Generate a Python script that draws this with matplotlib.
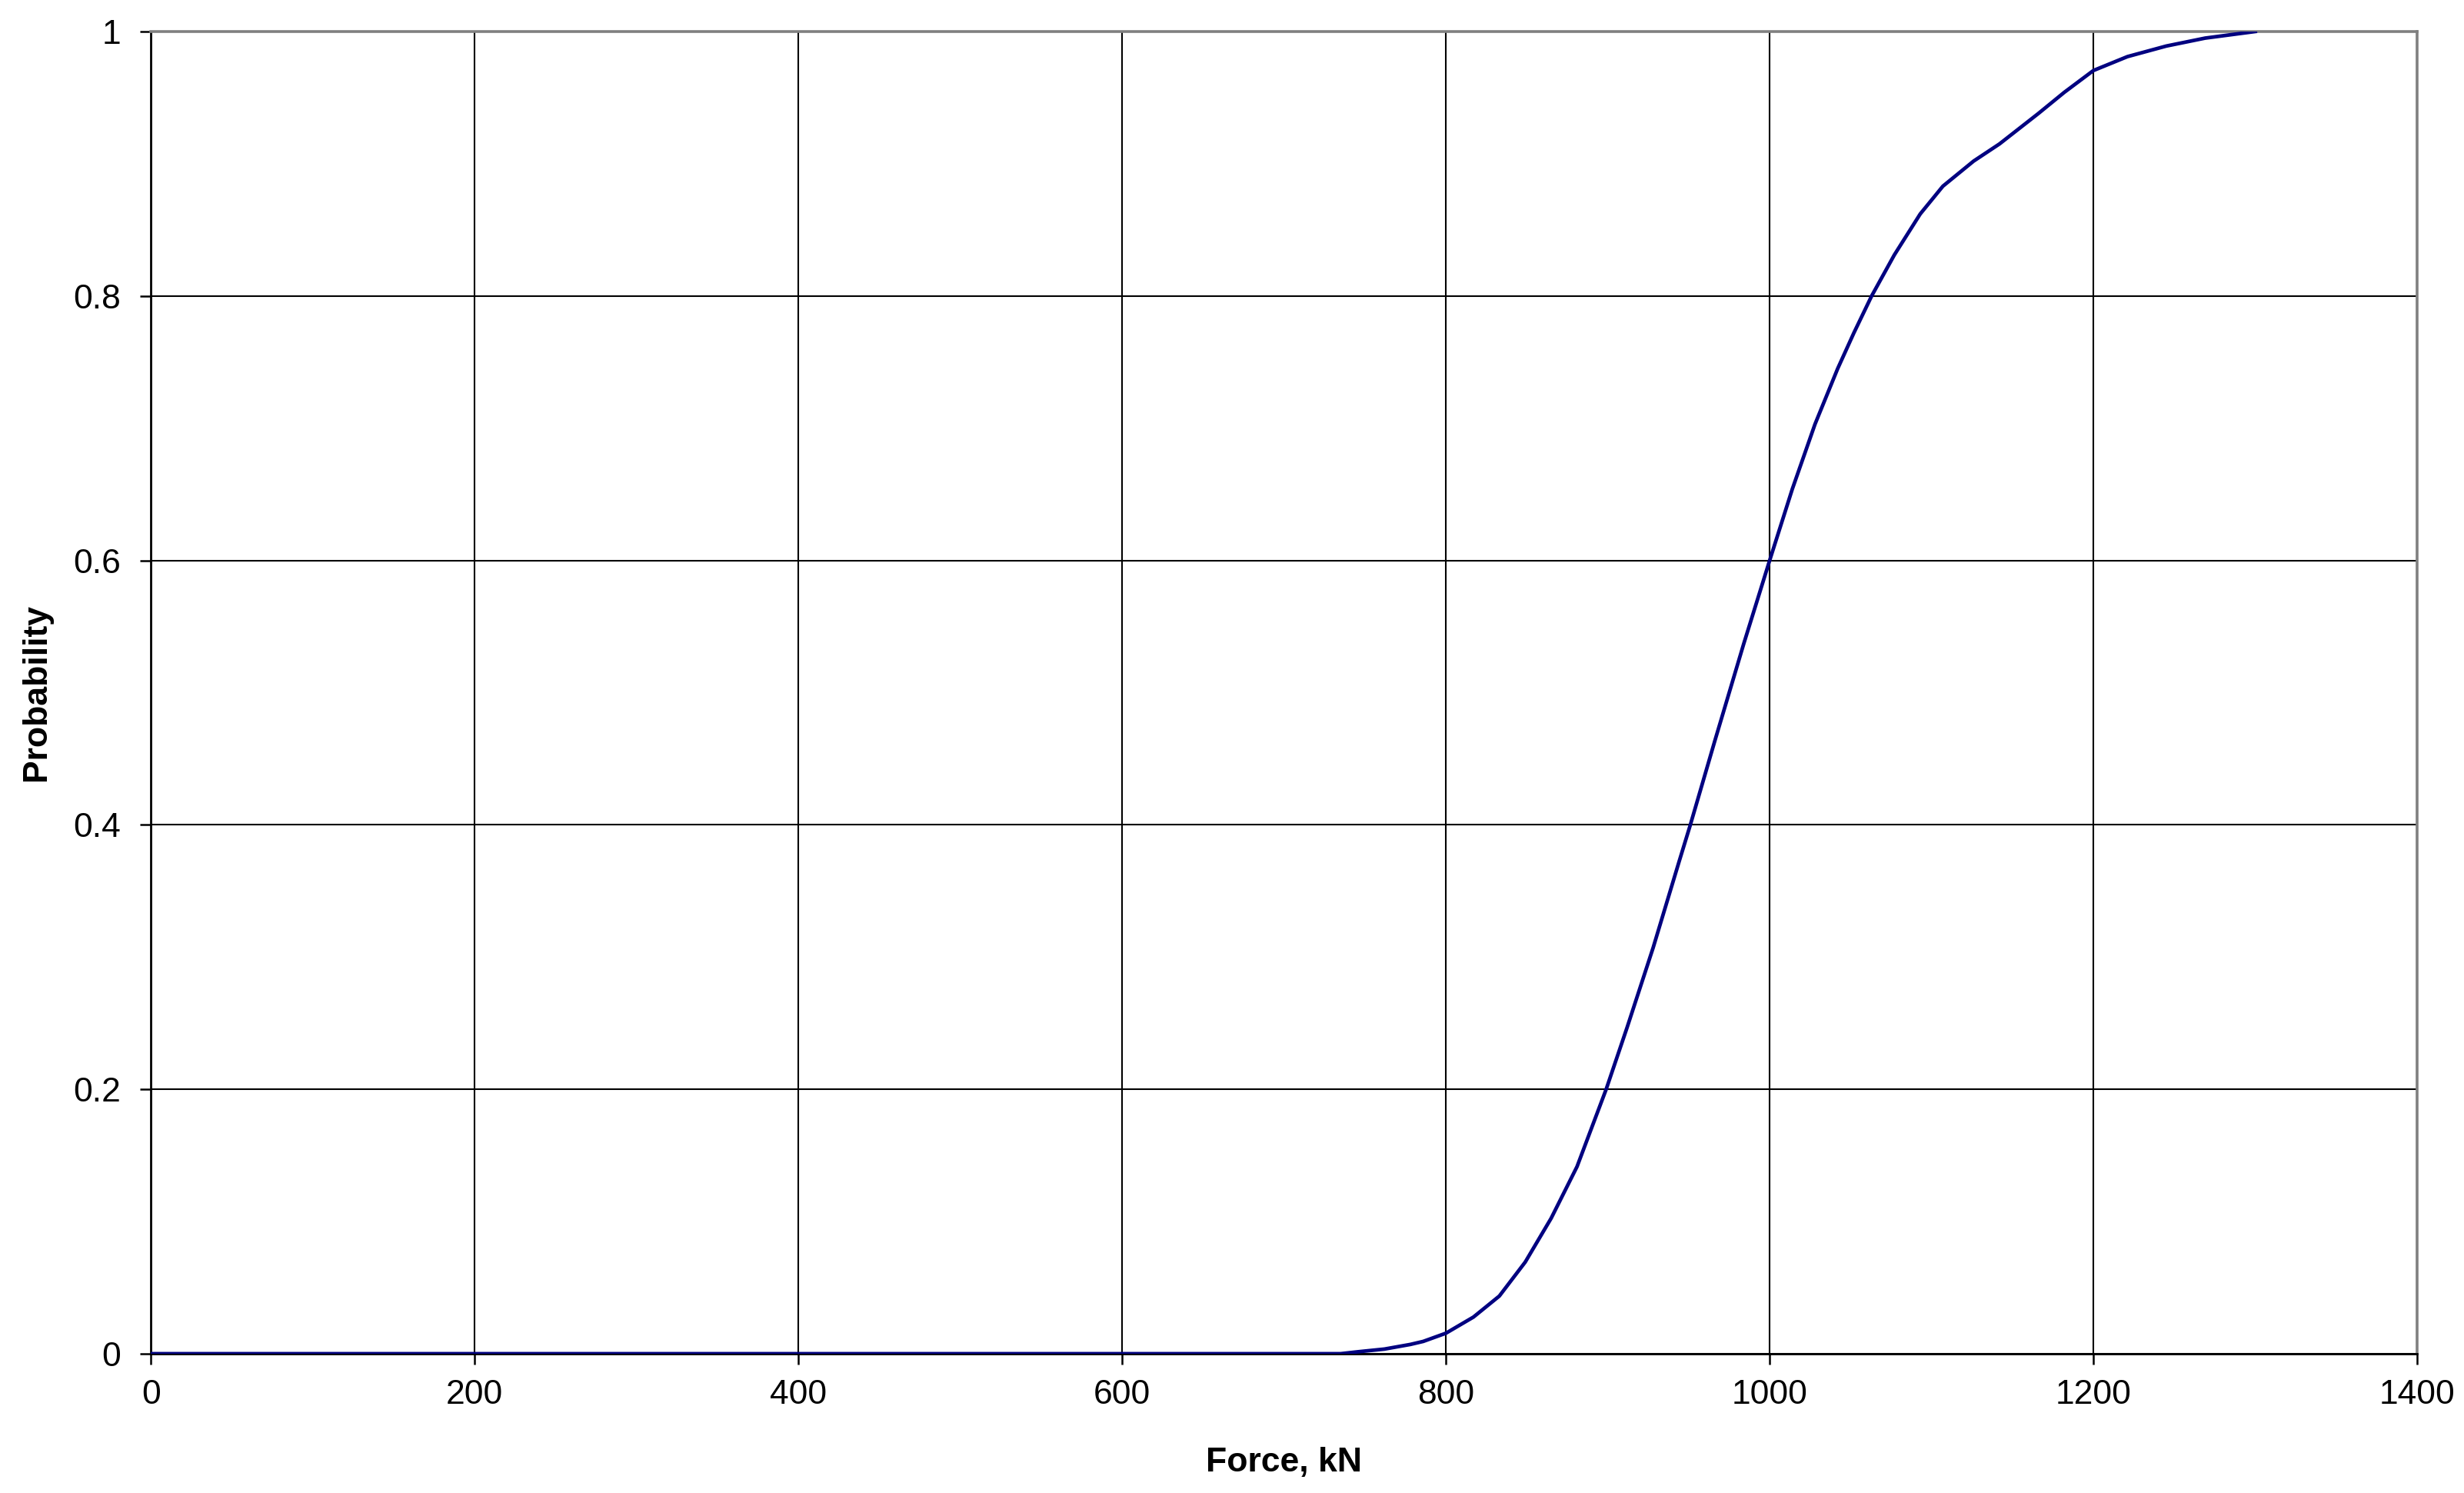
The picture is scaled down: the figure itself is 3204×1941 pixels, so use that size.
import numpy as np
import matplotlib
matplotlib.use("Agg")
import matplotlib.pyplot as plt

# Cumulative probability vs force
force_kn = [0, 100, 200, 300, 400, 500, 600, 700, 735, 746, 762, 778, 786,
            800, 817, 833, 849, 865, 881, 899, 912, 928, 944, 951, 966,
            984, 1000, 1014, 1028, 1042, 1052, 1063, 1077, 1093, 1107,
            1126, 1142, 1166, 1182, 1200, 1221, 1245, 1269, 1300]
probability = [0, 0, 0, 0, 0, 0, 0, 0, 0, 0.0015, 0.0035, 0.007, 0.0093,
               0.0155, 0.0277, 0.0436, 0.0693, 0.1024, 0.1415, 0.2, 0.247,
               0.307, 0.372, 0.4, 0.463, 0.537, 0.6, 0.654, 0.703, 0.745,
               0.772, 0.8, 0.831, 0.862, 0.883, 0.902, 0.915, 0.938, 0.954,
               0.9705, 0.981, 0.989, 0.995, 1.0]

x_ticks = [0, 200, 400, 600, 800, 1000, 1200, 1400]
y_ticks = [0, 0.2, 0.4, 0.6, 0.8, 1.0]
y_tick_labels = ["0", "0.2", "0.4", "0.6", "0.8", "1"]

plt.rcParams['font.family'] = ['Liberation Sans', 'DejaVu Sans']

fig = plt.figure(figsize=(16.025, 9.705), dpi=200)
ax = fig.add_axes([0.0612, 0.0933, 0.9195, 0.8856])

ax.plot(force_kn, probability, color="#000080", linewidth=1.7,
        solid_joinstyle="round", zorder=3)

ax.set_xlim(0, 1400)
ax.set_ylim(0, 1)
ax.set_xticks(x_ticks)
ax.set_yticks(y_ticks)
ax.set_yticklabels(y_tick_labels)

ax.grid(True, color="black", linewidth=0.75)
ax.set_axisbelow(True)

ax.tick_params(direction="out", length=5, width=0.9, labelsize=16,
               colors="black")
ax.tick_params(axis="x", pad=7)
ax.tick_params(axis="y", pad=9)

for side in ["left", "bottom"]:
    ax.spines[side].set_color("black")
    ax.spines[side].set_linewidth(1.0)
for side in ["top", "right"]:
    ax.spines[side].set_color("#808080")
    ax.spines[side].set_linewidth(1.3)

ax.set_xlabel("Force, kN", fontsize=16, fontweight="bold", labelpad=17)
ax.set_ylabel("Probability", fontsize=16, fontweight="bold", labelpad=10)

fig.savefig("out.png", dpi=200, facecolor="white")
